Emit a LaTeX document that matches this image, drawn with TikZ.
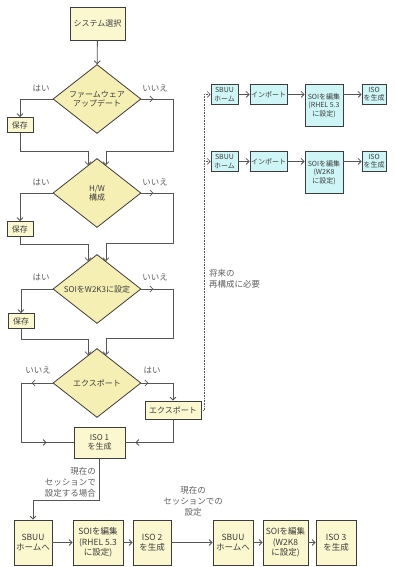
\documentclass[tikz,border=0pt]{standalone}
\usepackage{fontspec}
\setmainfont{Noto Sans CJK JP}
\usetikzlibrary{shapes.geometric,arrows.meta,decorations.markings}
\definecolor{boxyel}{HTML}{FBF8CF}
\definecolor{diayel}{HTML}{F5EFB3}
\definecolor{boxcyan}{HTML}{CFF6F6}
\definecolor{edgegray}{HTML}{3C3C3C}
\definecolor{wire}{HTML}{555555}
\definecolor{notegray}{HTML}{5E5E5E}

\begin{document}
\begin{tikzpicture}[x=1pt, y=-1pt, >={Straight Barb[length=3pt,width=6pt]},
    box/.style={draw=edgegray, line width=0.8pt, fill=boxyel, align=center, inner sep=1pt,
                text=edgegray, font=\fontsize{8}{9.5}\selectfont},
    savebox/.style={box, minimum width=26pt, minimum height=15pt},
    bigbox/.style={box, minimum height=45pt, font=\fontsize{8.5}{10.5}\selectfont},
    cbox/.style={box, fill=boxcyan, anchor=north, minimum height=20pt, font=\fontsize{7}{8.5}\selectfont},
    dec/.style={diamond, draw=edgegray, line width=0.8pt, fill=diayel, aspect=1.275, inner sep=0pt,
                minimum width=88pt, minimum height=69pt, align=center, text=edgegray,
                font=\fontsize{8}{9.5}\selectfont},
    lbl/.style={text=notegray, inner sep=0pt, font=\fontsize{8.5}{11}\selectfont},
    ln/.style={draw=wire, line width=0.8pt},
    arr/.style={ln, ->},
    midarr/.style={postaction={decorate, decoration={markings, mark=at position #1 with {\arrow{>}}}}},
    dots/.style={draw=wire, densely dotted, line width=0.6pt, ->}]
  \useasboundingbox (0,0) rectangle (395,567);

  % main flow
  \node[box, minimum width=55pt, minimum height=33pt] (sel) at (97.5,23.5) {システム選択};
  \node[dec] (fw) at (97,99) {ファームウェア\\アップデート};
  \node[savebox] (sv1) at (20,125) {保存};
  \node[dec] (hw) at (97,193) {H/W\\構成};
  \node[savebox] (sv2) at (20,229) {保存};
  \node[dec] (soi) at (97,289) {SOIをW2K3に設定};
  \node[savebox] (sv3) at (21,321) {保存};
  \node[dec] (exq) at (97,383) {エクスポート};
  \node[box, minimum width=56pt, minimum height=18pt] (exb) at (173,410) {エクスポート};
  \node[box, minimum width=51pt, minimum height=31pt] (iso1) at (99.5,442.5) {ISO 1\\を生成};

  % yes / no
  \node[lbl] (y1) at (41,88) {はい};
  \node[lbl] (n1) at (155,88) {いいえ};
  \node[lbl] (y2) at (41,182) {はい};
  \node[lbl] (n2) at (155,182) {いいえ};
  \node[lbl] (y3) at (41,277) {はい};
  \node[lbl] (n3) at (155,277) {いいえ};
  \node[lbl] (n4) at (38,370) {いいえ};
  \node[lbl] (y4) at (152,370) {はい};

  \draw[arr] (sel) -- (fw);
  \draw[arr] (fw.west) -| (sv1.north);
  \draw[arr] (sv1.south) -- ++(0,18.5) -| (hw.108);
  \draw[arr, midarr=12pt] (fw.east) -- ++(32,0) -- ++(0,52) -| (hw.72);
  \draw[arr] (hw.west) -| (sv2.north);
  \draw[arr] (sv2.south) -- ++(0,7) -| (soi.108);
  \draw[arr, midarr=12pt] (hw.east) -- ++(32,0) -- ++(0,50) -| (soi.72);
  \draw[arr] (soi.west) -| (sv3.north);
  \draw[arr] (sv3.south) -- ++(0,10) -| (exq.108);
  \draw[arr, midarr=12pt] (soi.east) -- ++(32,0) -- ++(0,49) -| (exq.72);
  \draw[ln, midarr=21pt, midarr=-27pt] (exq.west) -- ++(-31,0) |- (iso1.west);
  \draw[arr, midarr=7pt] (exq.east) -| (exb.north);
  \draw[ln, midarr=-10pt] (exb.south) |- (iso1.east);

  % later reconfiguration
  \node[box, cbox, minimum width=27pt] (r1a) at (224.5,84) {SBUU\\ホーム};
  \node[box, cbox, minimum width=37pt] (r1b) at (268.5,84) {インポート};
  \node[box, cbox, minimum width=38pt, minimum height=42pt] (r1c) at (324,84) {SOIを編集\\(RHEL 5.3\\に設定)};
  \node[box, cbox, minimum width=24pt] (r1d) at (374,84) {ISO\\を生成};
  \node[box, cbox, minimum width=27pt] (r2a) at (224.5,151) {SBUU\\ホーム};
  \node[box, cbox, minimum width=37pt] (r2b) at (268.5,151) {インポート};
  \node[box, cbox, minimum width=38pt, minimum height=42pt] (r2c) at (324,151) {SOIを編集\\(W2K8\\に設定)};
  \node[box, cbox, minimum width=24pt] (r2d) at (374,151) {ISO\\を生成};
  \node[lbl, anchor=west, align=left] (fut) at (209,279) {将来の\\再構成に必要};

  \draw[arr] (r1a) -- (r1b);
  \draw[arr] (r1b.east) -- (r1b.east -| r1c.west);
  \draw[arr] (r1d.west -| r1c.east) -- (r1d.west);
  \draw[arr] (r2a) -- (r2b);
  \draw[arr] (r2b.east) -- (r2b.east -| r2c.west);
  \draw[arr] (r2d.west -| r2c.east) -- (r2d.west);
  \draw[dots] (exb.east) -- ++(3,0) |- (r1a.west);
  \draw[dots] (exb.east) -- ++(3,0) |- (r2a.west);

  % current session
  \node[bigbox, minimum width=38pt] (b1) at (33,542.5) {SBUU\\ホームへ};
  \node[bigbox, minimum width=50pt] (b2) at (98,542.5) {SOIを編集\\(RHEL 5.3\\に設定)};
  \node[bigbox, minimum width=38pt] (b3) at (152,542.5) {ISO 2\\を生成};
  \node[bigbox, minimum width=40pt] (b4) at (233,542.5) {SBUU\\ホームへ};
  \node[bigbox, minimum width=45pt] (b5) at (285.5,542.5) {SOIを編集\\(W2K8\\に設定)};
  \node[bigbox, minimum width=40pt] (b6) at (336,542.5) {ISO 3\\を生成};
  \node[lbl, anchor=east, align=right] (cur1) at (96,482) {現在の\\セッションで\\設定する場合};
  \node[lbl, align=center] (cur2) at (193,501) {現在の\\セッションでの\\設定};

  \draw[arr] (iso1.south) -- ++(0,42) -| (b1.north);
  \draw[arr] (b1) -- (b2);
  \draw[arr] (b2) -- (b3);
  \draw[arr] (b3) -- (b4);
  \draw[arr] (b4) -- (b5);
  \draw[arr] (b5) -- (b6);
\end{tikzpicture}
\end{document}
